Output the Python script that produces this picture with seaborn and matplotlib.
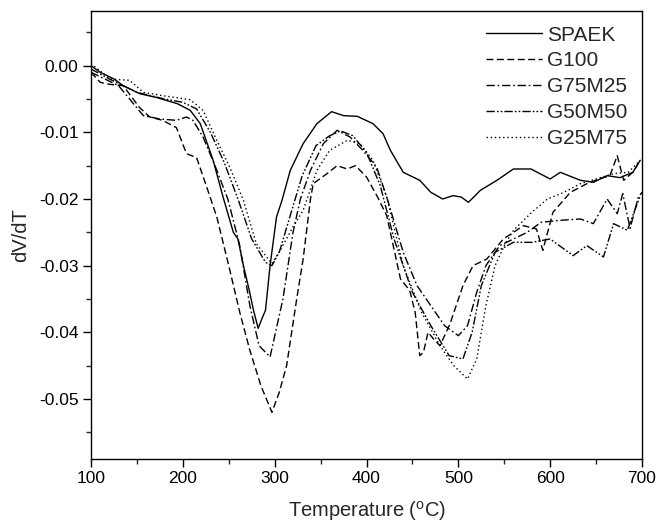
import matplotlib
matplotlib.use("Agg")
import matplotlib.pyplot as plt
import seaborn as sns
import numpy as np
from matplotlib.ticker import MultipleLocator, FuncFormatter

# ---- data ----
spaek_T = [100, 110, 125, 135, 153, 172, 194, 208, 219, 233, 244, 255, 260, 266, 272, 277, 282,
           286, 290, 295, 302, 308, 317, 331, 346, 362, 375, 390, 407, 418, 426, 440, 458, 470,
           483, 494, 503, 511, 524, 542, 560, 579, 600, 611, 633, 647, 662, 676, 690, 698]
spaek_v = [0.0, -0.001, -0.002, -0.003, -0.0042, -0.0048, -0.0057, -0.0067, -0.0087, -0.0142,
           -0.0198, -0.025, -0.026, -0.030, -0.0335, -0.0367, -0.0394, -0.038, -0.0367, -0.030,
           -0.0227, -0.0202, -0.0157, -0.0117, -0.0087, -0.0069, -0.0075, -0.0076, -0.0087,
           -0.0102, -0.0127, -0.016, -0.0172, -0.019, -0.020, -0.0195, -0.0197, -0.0205, -0.0187,
           -0.0172, -0.0155, -0.0155, -0.017, -0.016, -0.0172, -0.0175, -0.0165, -0.0168, -0.016,
           -0.0142]

g100_T = [100, 110, 120, 135, 153, 164, 178, 193, 204, 215, 226, 237, 250, 262, 273, 285, 297,
          305, 313, 324, 331, 339, 342, 357, 368, 379, 388, 400, 412, 422, 437, 447, 453, 458,
          462, 467, 473, 480, 491, 505, 516, 531, 549, 571, 585, 592, 603, 622, 640, 653, 665,
          673, 680, 690, 698]
g100_v = [-0.001, -0.0025, -0.0028, -0.003, -0.0063, -0.0077, -0.0082, -0.0093, -0.0132, -0.0138,
          -0.0182, -0.0227, -0.030, -0.037, -0.0427, -0.048, -0.052, -0.049, -0.045, -0.035,
          -0.029, -0.020, -0.0177, -0.0162, -0.015, -0.0155, -0.015, -0.0167, -0.0197, -0.0225,
          -0.032, -0.0337, -0.037, -0.0435, -0.043, -0.040, -0.041, -0.042, -0.0387, -0.033,
          -0.030, -0.029, -0.026, -0.024, -0.0245, -0.0277, -0.022, -0.019, -0.0177, -0.017,
          -0.0165, -0.0135, -0.0172, -0.016, -0.0142]

g75_T = [100, 115, 130, 145, 157, 175, 193, 204, 211, 222, 235, 249, 262, 273, 283, 295, 309,
         320, 328, 339, 353, 368, 382, 396, 411, 422, 440, 455, 470, 485, 500, 510, 520, 530,
         545, 560, 575, 590, 611, 633, 647, 662, 673, 679, 687, 696, 700]
g75_v = [-0.001, -0.002, -0.003, -0.0055, -0.0075, -0.008, -0.0082, -0.0077, -0.0082, -0.0107,
         -0.015, -0.020, -0.027, -0.036, -0.042, -0.0437, -0.035, -0.025, -0.020, -0.0157,
         -0.0117, -0.0097, -0.0107, -0.0127, -0.0152, -0.0197, -0.028, -0.033, -0.036, -0.039,
         -0.0405, -0.039, -0.034, -0.030, -0.027, -0.026, -0.025, -0.0235, -0.0232, -0.023,
         -0.0237, -0.020, -0.0222, -0.0192, -0.0244, -0.0197, -0.019]

g50_T = [100, 120, 150, 180, 200, 215, 230, 245, 260, 275, 290, 297, 305, 318, 330, 345, 360,
         372, 385, 400, 415, 430, 450, 470, 490, 505, 515, 525, 540, 560, 580, 600, 625, 640,
         658, 669, 684, 698]
g50_v = [-0.0005, -0.002, -0.004, -0.005, -0.0055, -0.0065, -0.010, -0.0145, -0.020, -0.026,
         -0.0295, -0.030, -0.028, -0.022, -0.0165, -0.012, -0.0105, -0.0098, -0.0105, -0.013,
         -0.018, -0.026, -0.034, -0.039, -0.0435, -0.044, -0.040, -0.033, -0.028, -0.0265,
         -0.0265, -0.026, -0.0285, -0.027, -0.0287, -0.0237, -0.0247, -0.0195]

g25_T = [100, 121, 142, 157, 178, 193, 208, 222, 237, 251, 266, 280, 297, 306, 320, 331, 346,
         360, 379, 393, 407, 422, 440, 460, 480, 495, 510, 520, 530, 540, 550, 560, 580, 597,
         615, 633, 650, 669, 685, 698]
g25_v = [0.0003, -0.002, -0.0022, -0.004, -0.0045, -0.0048, -0.0051, -0.0067, -0.0112, -0.0152,
         -0.0202, -0.0267, -0.0297, -0.0277, -0.0242, -0.0217, -0.0157, -0.0127, -0.0112,
         -0.0117, -0.0142, -0.0197, -0.030, -0.037, -0.042, -0.045, -0.047, -0.044, -0.036,
         -0.030, -0.027, -0.0247, -0.022, -0.020, -0.019, -0.0177, -0.017, -0.0162, -0.016,
         -0.0142]

labels = ["SPAEK", "G100", "G75M25", "G50M50", "G25M75"]

# ---- styling ----
sns.set_theme(style="ticks")
plt.rcParams["font.family"] = ["Liberation Sans", "DejaVu Sans"]
plt.rcParams["mathtext.fontset"] = "custom"
plt.rcParams["mathtext.rm"] = "Liberation Sans"

fig = plt.figure(figsize=(6.56, 5.28), dpi=100)
ax = fig.add_axes([0.1387, 0.1307, 0.8400, 0.8485])

series = [(spaek_T, spaek_v), (g100_T, g100_v), (g75_T, g75_v), (g50_T, g50_v), (g25_T, g25_v)]
styles = ["-", (0, (5, 2.5)), (0, (6, 2, 1.2, 2)), (0, (6, 1.5, 1.2, 1.5, 1.2, 1.5)), (0, (1, 2))]

for (T, v), lab, ls in zip(series, labels, styles):
    sns.lineplot(x=T, y=v, ax=ax, color="black", linewidth=1.0, linestyle=ls,
                 label=lab, sort=False, estimator=None)

ax.set_xlim(100, 700)
ax.set_ylim(-0.059, 0.0082)
ax.xaxis.set_major_locator(MultipleLocator(100))
ax.xaxis.set_minor_locator(MultipleLocator(50))
ax.yaxis.set_major_locator(MultipleLocator(0.01))
ax.yaxis.set_minor_locator(MultipleLocator(0.005))
ax.yaxis.set_major_formatter(FuncFormatter(lambda v, p: "0.00" if abs(v) < 1e-9 else f"{v:.2f}"))

ax.tick_params(which="major", direction="out", length=6, width=1.0, labelsize=12.5,
               colors="black", pad=3)
ax.tick_params(which="minor", direction="out", length=3.5, width=1.0)
for sp in ax.spines.values():
    sp.set_linewidth(1.0)
    sp.set_color("black")
    sp.set_visible(True)

ax.set_xlabel(r"Temperature ($^{\mathrm{o}}$C)", fontsize=14.5, labelpad=9)
ax.set_ylabel("dV/dT", fontsize=14.5, labelpad=6)

leg = ax.legend(loc="upper right", frameon=False, fontsize=15, handlelength=2.7,
                handletextpad=0.25, labelspacing=0.33, borderaxespad=0.3)

fig.savefig("out.png", dpi=100)
